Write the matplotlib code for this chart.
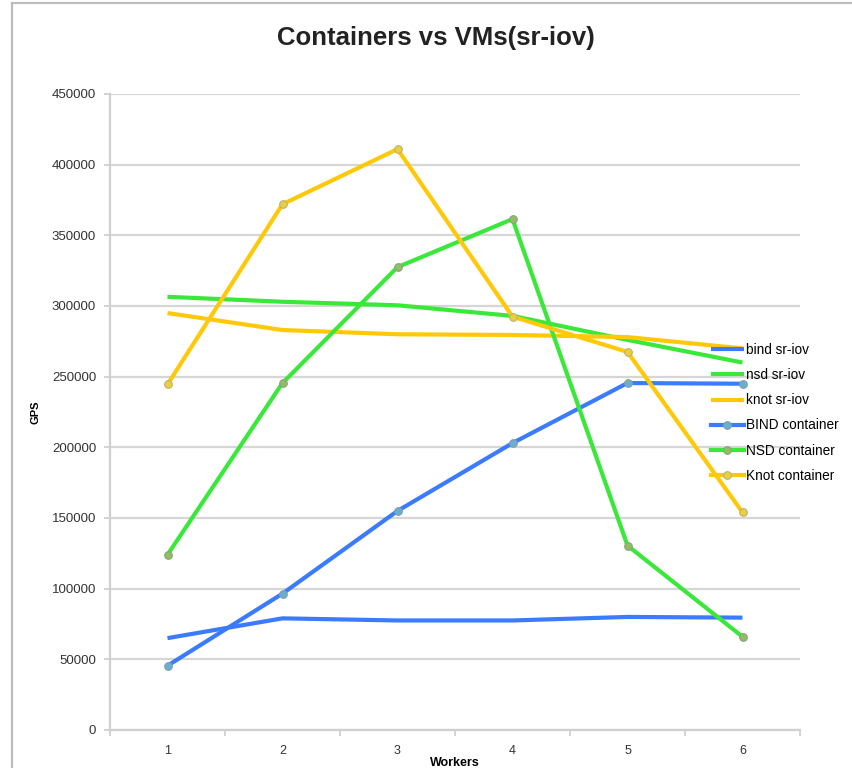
import matplotlib
matplotlib.use("Agg")
import matplotlib.pyplot as plt
import numpy as np
from matplotlib.patches import Rectangle

plt.rcParams['font.family'] = ['Liberation Sans', 'DejaVu Sans']

workers = [1, 2, 3, 4, 5, 6]
bind_sriov = [65000, 79000, 77500, 77500, 80000, 79500]
nsd_sriov = [306500, 303000, 300500, 293000, 276000, 260000]
knot_sriov = [295000, 283000, 280000, 279500, 278000, 270000]
bind_container = [45500, 96500, 155000, 203000, 245500, 245000]
nsd_container = [124000, 245500, 327500, 361500, 130500, 66000]
knot_container = [244500, 372000, 411000, 292500, 267500, 154000]
yticks = [0, 50000, 100000, 150000, 200000, 250000, 300000, 350000, 400000, 450000]

BLUE = '#3b7bff'
GREEN = '#3ae83a'
YELLOW = '#ffc90a'

fig = plt.figure(figsize=(8.52, 7.68), dpi=100)
fig.patch.set_facecolor('white')
# outer frame
fig.add_artist(Rectangle((12/852, -0.05), 1.0, 1 - 3/768 + 0.05, transform=fig.transFigure,
                         fill=False, edgecolor='#bdbdbd', linewidth=1.6))

ax = fig.add_axes([110/852, 1 - 730/768, 690/852, 636/768])
ax.set_xlim(0.5, 6.5)
ax.set_ylim(0, 450000)

lw = 3.0
ax.plot(workers, bind_sriov, color=BLUE, lw=lw, label='bind sr-iov', solid_capstyle='butt', zorder=3)
ax.plot(workers, nsd_sriov, color=GREEN, lw=lw, label='nsd sr-iov', solid_capstyle='butt', zorder=3)
ax.plot(workers, knot_sriov, color=YELLOW, lw=lw, label='knot sr-iov', solid_capstyle='butt', zorder=3)
ax.plot(workers, bind_container, color=BLUE, lw=lw, marker='o', ms=5.5,
        mfc='#6aaed0', mec='#7fa0b0', mew=0.8, label='BIND container', zorder=4)
ax.plot(workers, nsd_container, color=GREEN, lw=lw, marker='o', ms=5.5,
        mfc='#8cc060', mec='#90a080', mew=0.8, label='NSD container', zorder=4)
ax.plot(workers, knot_container, color=YELLOW, lw=lw, marker='o', ms=5.5,
        mfc='#e8d040', mec='#c0b070', mew=0.8, label='Knot container', zorder=4)

ax.set_yticks(yticks)
ax.set_yticklabels([str(v) for v in yticks], fontsize=9.5, color='#333333')
ax.yaxis.grid(True, color='#d6d6d6', linewidth=1.6)
ax.set_axisbelow(True)
ax.tick_params(axis='y', length=4, color='#cccccc', width=1.2, pad=6)

ax.set_xticks(workers)
ax.set_xticklabels([str(w) for w in workers], fontsize=9, color='#333333')
ax.tick_params(axis='x', length=0, pad=11)
ax.set_xticks(np.arange(0.5, 7.0, 1.0), minor=True)
ax.tick_params(axis='x', which='minor', length=4, color='#cccccc', width=1.2)

for s in ['top', 'right']:
    ax.spines[s].set_visible(False)
for s in ['left', 'bottom']:
    ax.spines[s].set_color('#d0d0d0')
    ax.spines[s].set_linewidth(1.6)

ax.set_xlabel('Workers', fontsize=9, fontweight='bold', labelpad=0)
ax.set_ylabel('GPS', fontsize=8, fontweight='bold', labelpad=8)

fig.text(436/852, 1 - 38/768, 'Containers vs VMs(sr-iov)', ha='center', va='center',
         fontsize=18.5, fontweight='bold', color='#222222')

leg = fig.legend(loc='upper left', bbox_to_anchor=(711/852, 1 - 343/768), frameon=False,
                 fontsize=9.8, handlelength=2.4, handletextpad=0.15, labelspacing=0.82,
                 borderaxespad=0, borderpad=0)

fig.savefig('out.png', dpi=100, facecolor='white')
